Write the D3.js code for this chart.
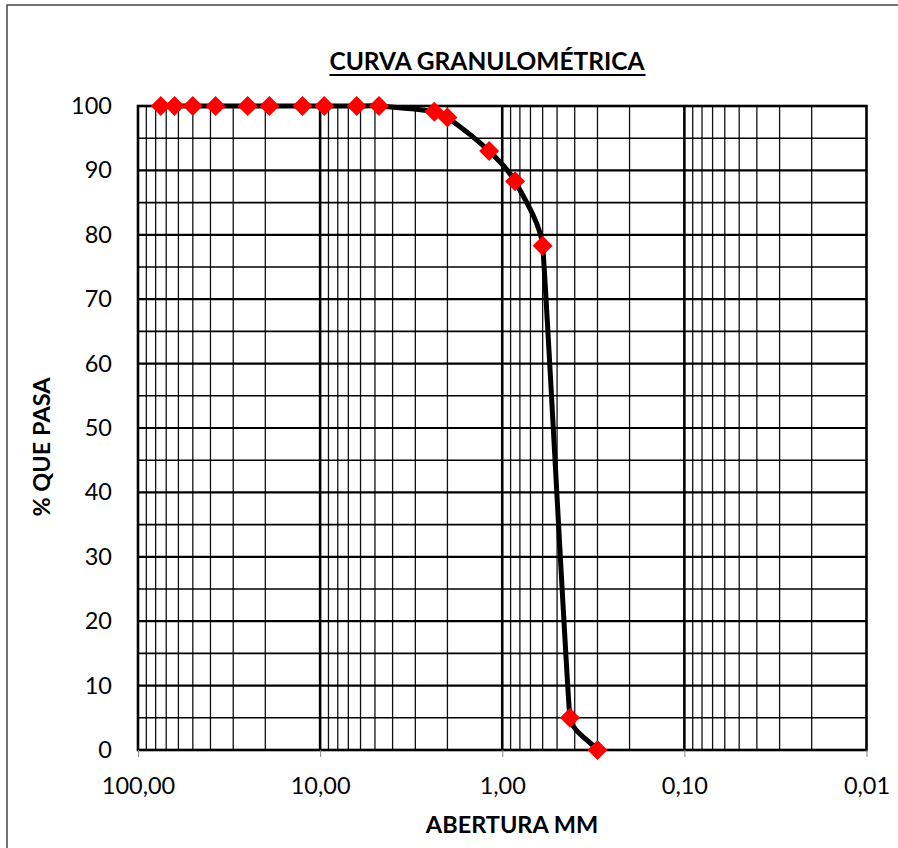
<!DOCTYPE html>
<html><head><meta charset="utf-8">
<script src="https://cdn.jsdelivr.net/npm/d3@7"></script>
<style>body{margin:0;background:#fff;} text{font-family:Lato,"Open Sans",sans-serif;}</style>
</head><body><svg id="c" width="898" height="848"></svg>
<script>
const aberturas = [75, 63, 50, 37.5, 25, 19, 12.5, 9.5, 6.3, 4.75, 2.36, 2.0, 1.18, 0.85, 0.6, 0.425, 0.3];
const pasa = [100, 100, 100, 100, 100, 100, 100, 100, 100, 100, 99.1, 98.2, 93.0, 88.3, 78.3, 5.0, 0];
const xTicks = [100, 10, 1, 0.1, 0.01];
const xTickLabels = ["100,00", "10,00", "1,00", "0,10", "0,01"];
const yTicks = [0, 10, 20, 30, 40, 50, 60, 70, 80, 90, 100];
const title = "CURVA GRANULOMÉTRICA";
const xTitle = "ABERTURA MM";
const yTitle = "% QUE PASA";

const svg = d3.select("#c");
const L = 138, R = 866.5, T = 106, B = 750;
const x = d3.scaleLog().domain([100, 0.01]).range([L, R]);
const y = d3.scaleLinear().domain([0, 100]).range([B, T]);

// outer chart border
svg.append("rect").attr("x", 7).attr("y", 5).attr("width", 1000).attr("height", 1000)
  .attr("fill", "none").attr("stroke", "#444").attr("stroke-width", 1.5);

// minor vertical grid
const minor = [];
[0.01, 0.1, 1, 10].forEach(d => { for (let k = 2; k <= 9; k++) minor.push(d * k); });
svg.append("g").selectAll("line").data(minor).join("line")
  .attr("x1", d => x(d)).attr("x2", d => x(d)).attr("y1", T).attr("y2", B)
  .attr("stroke", "#111").attr("stroke-width", 1.3);
// horizontal grid every 5
const hGrid = d3.range(5, 100, 5);
svg.append("g").selectAll("line").data(hGrid).join("line")
  .attr("x1", L).attr("x2", R).attr("y1", d => y(d)).attr("y2", d => y(d))
  .attr("stroke", "#000").attr("stroke-width", d => d % 10 === 0 ? 2.2 : 1.6);
// major decade lines
svg.append("g").selectAll("line").data(xTicks.slice(1, 4)).join("line")
  .attr("x1", d => x(d)).attr("x2", d => x(d)).attr("y1", T).attr("y2", B)
  .attr("stroke", "#000").attr("stroke-width", 2.6);
// plot border
svg.append("rect").attr("x", L).attr("y", T).attr("width", R - L).attr("height", B - T)
  .attr("fill", "none").attr("stroke", "#000").attr("stroke-width", 2.6);

const FONT = "Lato, 'Open Sans', sans-serif";
// x axis ticks
const xAxis = d3.axisBottom(x).tickValues(xTicks).tickFormat((d, i) => xTickLabels[i]).tickSize(7).tickPadding(20);
const gx = svg.append("g").attr("transform", `translate(0,${B})`).call(xAxis);
gx.select(".domain").remove();
gx.selectAll(".tick line").attr("stroke", "#888").attr("stroke-width", 1);
gx.selectAll("text").attr("font-size", 23.5).attr("fill", "#000").style("font-family", FONT);

// y axis
const yAxis = d3.axisLeft(y).tickValues(yTicks).tickSize(0).tickPadding(26);
const gy = svg.append("g").attr("transform", `translate(${L},0)`).call(yAxis);
gy.select(".domain").remove();
gy.selectAll("text").attr("font-size", 23.5).attr("fill", "#000").style("font-family", FONT);

// smoothed curve (Excel-like: unit tangents scaled by segment length, capped)
const pts = aberturas.map((a, i) => [x(a), y(pasa[i])]);
function smoothPath(p) {
  const n = p.length, tan = [];
  for (let i = 0; i < n; i++) {
    const a = p[Math.max(0, i - 1)], b = p[Math.min(n - 1, i + 1)];
    let dx = b[0] - a[0], dy = b[1] - a[1];
    const len = Math.hypot(dx, dy) || 1;
    tan.push([dx / len, dy / len]);
  }
  const path = d3.path();
  path.moveTo(p[0][0], p[0][1]);
  for (let i = 0; i < n - 1; i++) {
    const s = Math.min(Math.hypot(p[i + 1][0] - p[i][0], p[i + 1][1] - p[i][1]) * 0.3, 30);
    path.bezierCurveTo(p[i][0] + tan[i][0] * s, p[i][1] + tan[i][1] * s,
      p[i + 1][0] - tan[i + 1][0] * s, p[i + 1][1] - tan[i + 1][1] * s,
      p[i + 1][0], p[i + 1][1]);
  }
  return path.toString();
}
svg.append("path").attr("d", smoothPath(pts))
  .attr("fill", "none").attr("stroke", "#000").attr("stroke-width", 5).attr("stroke-linejoin", "round");

// markers
const sym = d3.symbol(d3.symbolSquare, 200);
svg.append("g").selectAll("path").data(pts).join("path")
  .attr("d", sym).attr("transform", d => `translate(${d[0]},${d[1]}) rotate(45)`)
  .attr("fill", "#ff0000");

// titles
const t = svg.append("text").attr("x", 487).attr("y", 70).attr("text-anchor", "middle")
  .attr("font-size", 24.5).attr("font-weight", "bold").text(title);
const bb = t.node().getBBox();
svg.append("line").attr("x1", bb.x).attr("x2", bb.x + bb.width).attr("y1", 75).attr("y2", 75)
  .attr("stroke", "#000").attr("stroke-width", 1.8);
svg.append("text").attr("x", 512).attr("y", 833).attr("text-anchor", "middle")
  .attr("font-size", 23.5).attr("font-weight", "bold").text(xTitle);
svg.append("text").attr("transform", "translate(50,447) rotate(-90)").attr("text-anchor", "middle")
  .attr("font-size", 23.5).attr("font-weight", "bold").text(yTitle);
</script></body></html>
